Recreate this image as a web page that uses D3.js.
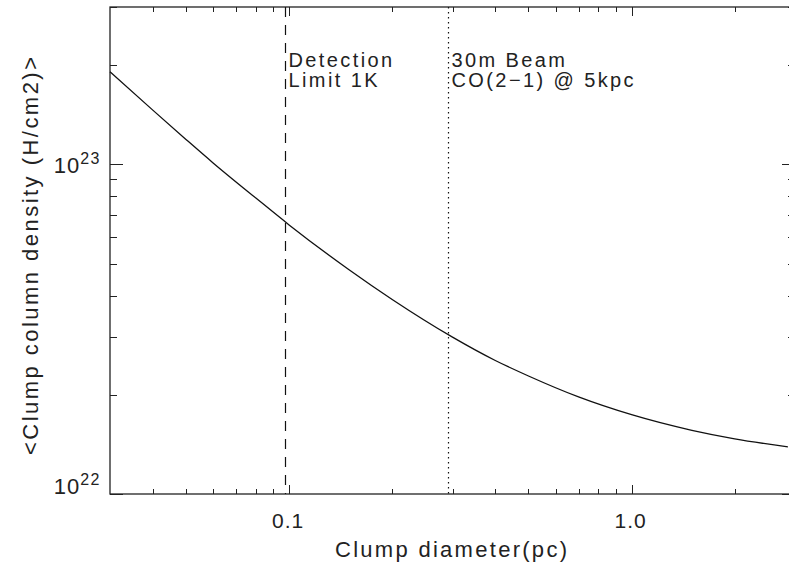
<!DOCTYPE html>
<html>
<head>
<meta charset="utf-8">
<script src="https://cdn.jsdelivr.net/npm/d3@7"></script>
<style>
	html, body { margin: 0; padding: 0; background: #fff; }
	svg { display: block; }
	text { font-family: "Liberation Sans", Arial, sans-serif; fill: #222; }
</style>
</head>
<body>
<div id="chart"></div>
<script>
"use strict";

// clump diameter (pc) and mean column density (H/cm2)
var diameter = [0.03, 0.04, 0.05, 0.06, 0.08, 0.1, 0.15, 0.2, 0.3, 0.4, 0.5, 0.7, 1.0, 1.5, 2.0, 2.86];
var density = [1.91e23, 1.46e23, 1.19e23, 1.01e23, 7.9e22, 6.55e22, 4.78e22, 3.89e22, 2.99e22, 2.54e22, 2.28e22, 1.97e22, 1.74e22, 1.56e22, 1.47e22, 1.39e22];

// vertical markers
var markerX = [0.0975, 0.291];
var markerStyle = ["dashed", "dotted"];
var markerLines = [["Detection", "Limit 1K"], ["30m Beam", "CO(2\u22121) @ 5kpc"]];

// axis ticks
var xMajor = [0.1, 1.0];
var xMajorLabels = ["0.1", "1.0"];
var xMinor = [0.04, 0.05, 0.06, 0.07, 0.08, 0.09, 0.2, 0.3, 0.4, 0.5, 0.6, 0.7, 0.8, 0.9, 2, 3];
var yMajor = [1e22, 1e23];
var yMajorExp = ["22", "23"];
var yMinor = [2e22, 3e22, 4e22, 5e22, 6e22, 7e22, 8e22, 9e22, 2e23, 3e23];

var width = 789, height = 567;
var plotLeft = 110, plotRight = 795, plotTop = 7, plotBottom = 494;

var svg = d3.select("#chart").append("svg")
	.attr("width", width)
	.attr("height", height);

// plot goes to x = 3 pc, a little beyond the visible picture edge
var x = d3.scaleLog().domain([0.03, 3]).range([plotLeft, plotRight]);
var y = d3.scaleLog().domain([1e22, 3e23]).range([plotBottom, plotTop]);

var axisColor = "#222";

// frame
svg.append("rect")
	.attr("x", plotLeft)
	.attr("y", plotTop)
	.attr("width", plotRight - plotLeft)
	.attr("height", plotBottom - plotTop)
	.style("fill", "none")
	.style("stroke", axisColor)
	.style("stroke-width", 1.3);

// x ticks, bottom and top
function xTicks(values, len) {
	values.forEach(function (v) {
		var px = Math.round(x(v)) + 0.5;
		svg.append("line")
			.attr("x1", px).attr("x2", px)
			.attr("y1", plotBottom).attr("y2", plotBottom - len)
			.style("stroke", axisColor);
		svg.append("line")
			.attr("x1", px).attr("x2", px)
			.attr("y1", plotTop).attr("y2", plotTop + len)
			.style("stroke", axisColor);
	});
}
xTicks(xMajor, 9);
xTicks(xMinor, 5);

// y ticks, left and right
function yTicks(values, len) {
	values.forEach(function (v) {
		var py = Math.round(y(v)) + 0.5;
		svg.append("line")
			.attr("x1", plotLeft).attr("x2", plotLeft + len)
			.attr("y1", py).attr("y2", py)
			.style("stroke", axisColor);
		svg.append("line")
			.attr("x1", plotRight).attr("x2", plotRight - len)
			.attr("y1", py).attr("y2", py)
			.style("stroke", axisColor);
	});
}
yTicks(yMajor, 13);
yTicks(yMinor, 7);

// x tick labels
svg.selectAll(".xlab").data(xMajor)
	.enter().append("text")
	.attr("class", "xlab")
	.attr("x", function (d) { return x(d) - 1; })
	.attr("y", 528)
	.style("text-anchor", "middle")
	.style("font-size", "21px")
	.style("letter-spacing", "1px")
	.text(function (d, i) { return xMajorLabels[i]; });

// y tick labels, 10 with superscript exponent
svg.selectAll(".ylab").data(yMajor)
	.enter().append("text")
	.attr("class", "ylab")
	.attr("x", 101)
	.attr("y", function (d) { return Math.min(y(d) + 9, plotBottom); })
	.style("text-anchor", "end")
	.each(function (d, i) {
		var t = d3.select(this);
		t.append("tspan").style("font-size", "22px").style("letter-spacing", "1px").text("10");
		t.append("tspan").attr("dy", -9).style("font-size", "16px").style("letter-spacing", "1.5px").text(yMajorExp[i]);
	});

// axis titles
svg.append("text")
	.attr("x", 335)
	.attr("y", 557)
	.attr("textLength", 232)
	.attr("lengthAdjust", "spacing")
	.style("font-size", "22px")
	.text("Clump diameter(pc)");

svg.append("text")
	.attr("transform", "translate(38, 256) rotate(-90)")
	.attr("x", 0)
	.attr("y", 0)
	.attr("textLength", 398)
	.attr("lengthAdjust", "spacing")
	.style("text-anchor", "middle")
	.style("font-size", "22px")
	.text("<Clump column density (H/cm2)>");

// marker lines
markerX.forEach(function (v, i) {
	var px = Math.round(x(v)) + 0.5;
	svg.append("line")
		.attr("x1", px).attr("x2", px)
		.attr("y1", plotTop).attr("y2", plotBottom)
		.style("stroke", "#111")
		.style("stroke-width", 1.2)
		.style("stroke-dasharray", markerStyle[i] === "dashed" ? "10,8" : "1.5,3.5");

	svg.selectAll(".mlab" + i).data(markerLines[i])
		.enter().append("text")
		.attr("class", "mlab" + i)
		.attr("x", px + 3)
		.attr("y", function (d, j) { return 67 + j * 20; })
		.style("font-size", "20px")
		.style("letter-spacing", "2.4px")
		.text(function (d) { return d; });
});

// curve
var line = d3.line()
	.x(function (d, i) { return x(diameter[i]); })
	.y(function (d) { return y(d); })
	.curve(d3.curveMonotoneX);

svg.append("path")
	.datum(density)
	.attr("d", line)
	.style("fill", "none")
	.style("stroke", "#111")
	.style("stroke-width", 1.3);
</script>
</body>
</html>
